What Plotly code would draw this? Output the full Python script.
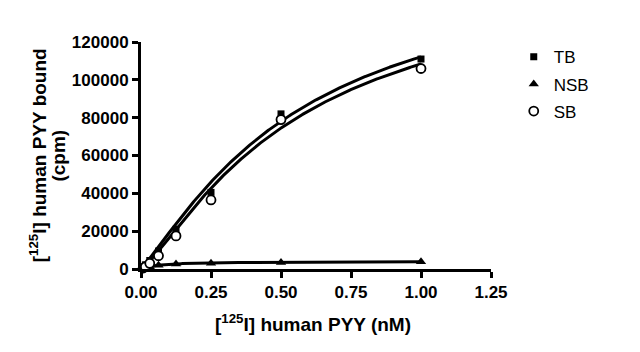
import numpy as np
import plotly.graph_objects as go

# Concentrations (nM)
conc = [0.0078, 0.0156, 0.03125, 0.0625, 0.125, 0.25, 0.5, 1.0]
# Bound (cpm)
tb = [1000, 2200, 4500, 9500, 21000, 40500, 82000, 111000]
nsb = [300, 700, 1200, 2000, 2700, 3100, 3500, 3800]
sb = [500, 1200, 3000, 7000, 17500, 36500, 79000, 106000]

# Fit parameters (Hill-type binding) estimated from the drawn curves
sb_bmax, sb_k, sb_n = 161700, 0.567, 1.25
ns_bmax, ns_kd = 4000, 0.06

x_tick_vals = [0, 0.25, 0.5, 0.75, 1.0, 1.25]
x_tick_text = ["0.00", "0.25", "0.50", "0.75", "1.00", "1.25"]
y_tick_vals = [0, 20000, 40000, 60000, 80000, 100000, 120000]
y_tick_text = ["0", "20000", "40000", "60000", "80000", "100000", "120000"]

xf = np.linspace(0, max(conc), 300)
sb_fit = sb_bmax * xf**sb_n / (sb_k**sb_n + xf**sb_n)
ns_fit = ns_bmax * xf / (ns_kd + xf)
tb_fit = sb_fit + ns_fit

fig = go.Figure()
line = dict(color="black", width=3)
fig.add_trace(go.Scatter(x=xf, y=tb_fit, mode="lines", line=line, showlegend=False, cliponaxis=False))
fig.add_trace(go.Scatter(x=xf, y=sb_fit, mode="lines", line=line, showlegend=False, cliponaxis=False))
fig.add_trace(go.Scatter(x=xf, y=ns_fit, mode="lines", line=line, showlegend=False, cliponaxis=False))

fig.add_trace(go.Scatter(x=conc, y=tb, mode="markers", name="TB", legendgroup="a",
                         marker=dict(symbol="square", size=7, color="black"), cliponaxis=False))
fig.add_trace(go.Scatter(x=conc, y=nsb, mode="markers", name="NSB", legendgroup="b",
                         marker=dict(symbol="triangle-up", size=9, color="black"), cliponaxis=False))
fig.add_trace(go.Scatter(x=conc, y=sb, mode="markers", name="SB", legendgroup="c",
                         marker=dict(symbol="circle", size=9, color="white",
                                     line=dict(color="black", width=1.8)), cliponaxis=False))

font = "Liberation Sans, Arial, sans-serif"
axis_common = dict(showline=True, linecolor="black", linewidth=3, ticks="outside",
                   ticklen=6, tickwidth=3, tickcolor="black", showgrid=False, zeroline=False,
                   tickfont=dict(family=font, size=17, color="black", weight="bold"))
fig.update_xaxes(range=[0, 1.25], tickvals=x_tick_vals, ticktext=x_tick_text, **axis_common)
fig.update_yaxes(range=[0, 120000], tickvals=y_tick_vals, ticktext=y_tick_text, **axis_common)

title_font = dict(family=font, size=19, color="black", weight="bold")
fig.update_layout(
    width=640, height=352,
    margin=dict(l=141, r=149, t=42, b=83, autoexpand=False),
    plot_bgcolor="white", paper_bgcolor="white",
    font=dict(family=font, color="black"),
    legend=dict(x=1.065, y=1.012, xanchor="left", yanchor="top", tracegroupgap=2,
                font=dict(family=font, size=17, color="black"), bgcolor="rgba(0,0,0,0)"),
    annotations=[
        dict(text="[<sup>125</sup>I] human PYY bound", xref="paper", yref="paper",
             x=-0.295, y=0.5, xanchor="center", yanchor="middle", textangle=-90,
             showarrow=False, font=title_font),
        dict(text="(cpm)", xref="paper", yref="paper",
             x=-0.237, y=0.5, xanchor="center", yanchor="middle", textangle=-90,
             showarrow=False, font=title_font),
        dict(text="[<sup>125</sup>I] human PYY (nM)", xref="paper", yref="paper",
             x=0.49, y=-0.24, xanchor="center", yanchor="middle",
             showarrow=False, font=title_font),
    ],
)
fig.write_html("out.html")
